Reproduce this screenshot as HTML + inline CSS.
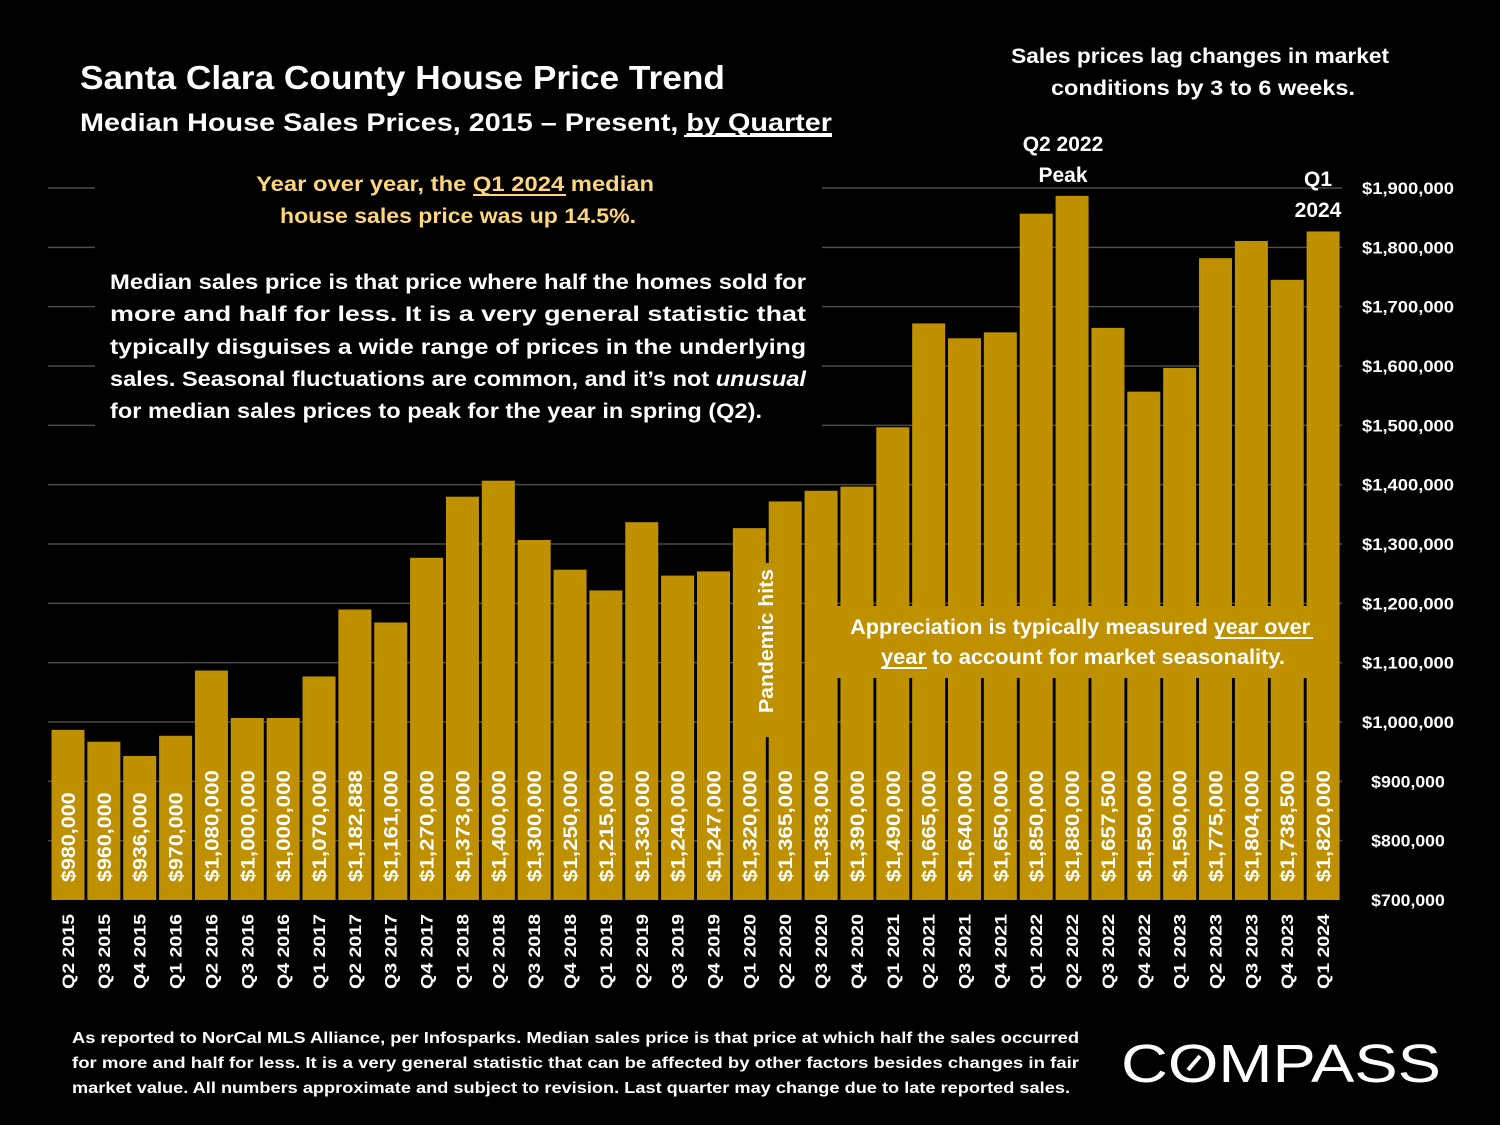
<!DOCTYPE html>
<html><head><meta charset="utf-8">
<style>
html,body{margin:0;padding:0;background:#000;}
svg{display:block;font-family:"Liberation Sans",sans-serif;font-weight:bold;}
</style></head>
<body>
<svg id="chart" width="1500" height="1125" viewBox="0 0 1500 1125" xmlns="http://www.w3.org/2000/svg">
<rect width="1500" height="1125" fill="#000"/>
<g id="grid"></g>
<g id="bars"></g>
<g id="yaxis"></g>
<g id="xaxis"></g>

<text x="80" y="89" fill="#fff" font-size="33" textLength="645" lengthAdjust="spacingAndGlyphs">Santa Clara County House Price Trend</text>
<text x="80" y="131" fill="#fff" font-size="25" textLength="752" lengthAdjust="spacingAndGlyphs">Median House Sales Prices, 2015 – Present, <tspan text-decoration="underline">by Quarter</tspan></text>
<line x1="684" y1="136" x2="832" y2="136" stroke="#fff" stroke-width="2"/>

<rect x="95" y="172" width="727" height="262" fill="#000"/>
<text fill="#FFD67A" font-size="21" text-anchor="middle">
<tspan x="458" y="191" textLength="398" lengthAdjust="spacingAndGlyphs">Year over year, the Q1 2024 median</tspan>
<tspan x="458" y="223" textLength="356" lengthAdjust="spacingAndGlyphs">house sales price was up 14.5%.</tspan>
</text>
<line x1="473" y1="195" x2="566" y2="195" stroke="#FFD67A" stroke-width="2"/>
<g fill="#fff" font-size="21">
<text x="110" y="289" textLength="696" lengthAdjust="spacingAndGlyphs">Median sales price is that price where half the homes sold for</text>
<text x="110" y="321" textLength="696" lengthAdjust="spacingAndGlyphs">more and half for less. It is a very general statistic that</text>
<text x="110" y="354" textLength="696" lengthAdjust="spacingAndGlyphs">typically disguises a wide range of prices in the underlying</text>
<text x="110" y="386" textLength="696" lengthAdjust="spacingAndGlyphs">sales. Seasonal fluctuations are common, and it’s not <tspan font-style="italic">unusual</tspan></text>
<text x="110" y="418" textLength="652" lengthAdjust="spacingAndGlyphs">for median sales prices to peak for the year in spring (Q2).</text>
</g>

<text fill="#fff" font-size="21" text-anchor="middle">
<tspan x="1203" y="63" textLength="378" lengthAdjust="spacingAndGlyphs">Sales prices lag changes in market</tspan>
<tspan x="1203" y="95" textLength="304" lengthAdjust="spacingAndGlyphs">conditions by 3 to 6 weeks.</tspan>
</text>
<text fill="#fff" font-size="21" text-anchor="middle">
<tspan x="1063" y="151">Q2 2022</tspan><tspan x="1063" y="182">Peak</tspan>
</text>
<text fill="#fff" font-size="21" text-anchor="middle">
<tspan x="1318" y="186">Q1</tspan><tspan x="1318" y="217">2024</tspan>
</text>

<rect x="836" y="606" width="494" height="72" fill="#BF9000"/>
<text fill="#fff" font-size="21" text-anchor="middle">
<tspan x="1083" y="634" textLength="460" lengthAdjust="spacingAndGlyphs">Appreciation is typically measured year over</tspan>
<tspan x="1083" y="664" textLength="404" lengthAdjust="spacingAndGlyphs">year to account for market seasonality.</tspan>
</text>
<line x1="1216" y1="638" x2="1313" y2="638" stroke="#fff" stroke-width="2"/>
<line x1="881" y1="668" x2="927" y2="668" stroke="#fff" stroke-width="2"/>

<rect x="750" y="563" width="32" height="174" fill="#BF9000"/>
<text fill="#fff" font-size="20" text-anchor="middle" transform="translate(773,641) rotate(-90)" textLength="144" lengthAdjust="spacingAndGlyphs">Pandemic hits</text>

<g fill="#fff" font-size="16">
<text x="72" y="1043" textLength="1007" lengthAdjust="spacingAndGlyphs">As reported to NorCal MLS Alliance, per Infosparks. Median sales price is that price at which half the sales occurred</text>
<text x="72" y="1068" textLength="1007" lengthAdjust="spacingAndGlyphs">for more and half for less. It is a very general statistic that can be affected by other factors besides changes in fair</text>
<text x="72" y="1093" textLength="998" lengthAdjust="spacingAndGlyphs">market value. All numbers approximate and subject to revision. Last quarter may change due to late reported sales.</text>
</g>
<text x="1121" y="1082" fill="#fff" font-size="54" font-weight="normal" textLength="320" lengthAdjust="spacingAndGlyphs">COMPASS</text>
<line x1="1188" y1="1070" x2="1200" y2="1056" stroke="#fff" stroke-width="4"/>

<script>
const categories = ["Q2 2015","Q3 2015","Q4 2015","Q1 2016","Q2 2016","Q3 2016","Q4 2016","Q1 2017","Q2 2017","Q3 2017","Q4 2017","Q1 2018","Q2 2018","Q3 2018","Q4 2018","Q1 2019","Q2 2019","Q3 2019","Q4 2019","Q1 2020","Q2 2020","Q3 2020","Q4 2020","Q1 2021","Q2 2021","Q3 2021","Q4 2021","Q1 2022","Q2 2022","Q3 2022","Q4 2022","Q1 2023","Q2 2023","Q3 2023","Q4 2023","Q1 2024"];
const values = [980000,960000,936000,970000,1080000,1000000,1000000,1070000,1182888,1161000,1270000,1373000,1400000,1300000,1250000,1215000,1330000,1240000,1247000,1320000,1365000,1383000,1390000,1490000,1665000,1640000,1650000,1850000,1880000,1657500,1550000,1590000,1775000,1804000,1738500,1820000];
const yTicks = [700000,800000,900000,1000000,1100000,1200000,1300000,1400000,1500000,1600000,1700000,1800000,1900000];

const NS = "http://www.w3.org/2000/svg";
const yMin = 700000, yMax = 1900000, y0 = 900, y1 = 188;
function yScale(v){ return y0 - (v - yMin) / (yMax - yMin) * (y0 - y1); }
const xFirst = 68, step = 35.86, barW = 33, barLift = 4;
function xScale(i){ return xFirst + i * step; }
function fmt(v){ return "$" + v.toLocaleString("en-US"); }
function mk(tag, attrs, parent){ const e = document.createElementNS(NS, tag); for (const k in attrs) e.setAttribute(k, attrs[k]); parent.appendChild(e); return e; }

const grid = document.getElementById("grid");
const yaxis = document.getElementById("yaxis");
yTicks.forEach(t => {
  const y = yScale(t);
  if (t > yMin) {
    const ln = mk("line", {x1: 48, x2: 1342, y1: y, y2: y, stroke: "#4a4a4a", "stroke-width": 1.5}, grid);
    
    
  }
  const s = fmt(t);
  const tx = mk("text", {x: 1408, y: y + 6, fill: "#fff", "font-size": 17, "text-anchor": "middle", textLength: s.length * 9.2, lengthAdjust: "spacingAndGlyphs"}, yaxis);
  
  
  tx.textContent = s;
});

const bars = document.getElementById("bars");
const xaxis = document.getElementById("xaxis");
values.forEach((v, i) => {
  const cx = xScale(i), top = yScale(v) - barLift;
  const r = mk("rect", {x: cx - barW / 2, y: top, width: barW, height: y0 - top, fill: "#BF9000"}, bars);
  
  
  const s = fmt(v);
  const lab = mk("text", {transform: "translate(" + (cx + 7) + ",882) rotate(-90)", fill: "#fff", "font-size": 19, textLength: s.length * 11.2, lengthAdjust: "spacingAndGlyphs"}, bars);
  
  
  lab.textContent = s;
  const xl = mk("text", {transform: "translate(" + (cx + 6) + ",914) rotate(-90)", fill: "#fff", "font-size": 17, "text-anchor": "end", textLength: 75, lengthAdjust: "spacingAndGlyphs"}, xaxis);
  
  
  xl.textContent = categories[i];
});
</script>
</svg>
</body></html>
